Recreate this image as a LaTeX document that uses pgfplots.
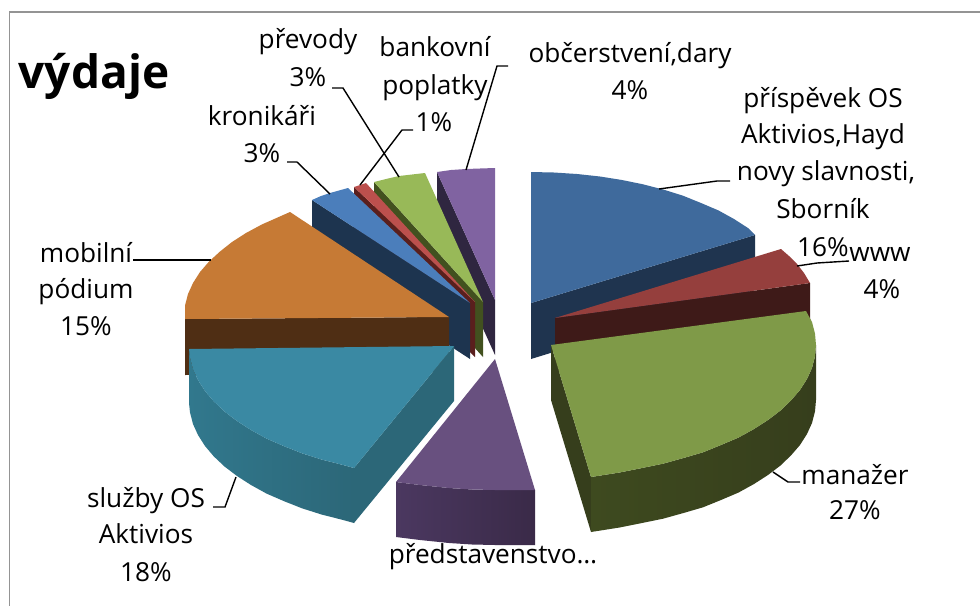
\documentclass[border=0pt]{standalone}
\usepackage{pgfplots}
\pgfplotsset{compat=1.18}
\usepackage{fontspec}
\setmainfont{Open Sans}
\definecolor{topA}{HTML}{3F6A9C}\definecolor{sideA}{HTML}{1F344F}
\definecolor{topB}{HTML}{953F3D}\definecolor{sideB}{HTML}{3E1A18}
\definecolor{topC}{HTML}{7F9A48}\definecolor{sideC}{HTML}{363E1C}\definecolor{sideCl}{HTML}{3E4A1F}
\definecolor{topD}{HTML}{68507F}\definecolor{sideD}{HTML}{3A2A48}\definecolor{sideDl}{HTML}{4B3860}
\definecolor{topE}{HTML}{3A89A3}\definecolor{sideE}{HTML}{2C6778}\definecolor{sideEl}{HTML}{31788D}
\definecolor{topF}{HTML}{C67A35}\definecolor{sideF}{HTML}{4F2E14}
\definecolor{topG}{HTML}{4B7EBB}\definecolor{sideG}{HTML}{1D344F}
\definecolor{topH}{HTML}{BC504D}\definecolor{sideH}{HTML}{5A1F1D}
\definecolor{topI}{HTML}{98B958}\definecolor{sideI}{HTML}{42511F}
\definecolor{topJ}{HTML}{8063A1}\definecolor{sideJ}{HTML}{2F2640}
\newcommand{\lab}[3]{\node[text=black,inner sep=0pt,anchor=base] at (axis cs:#1,#2) {\fontsize{26.2}{30}\selectfont #3};}
\begin{document}
\begin{tikzpicture}
\begin{axis}[scale only axis,width=980pt,height=606pt,xmin=0,xmax=980,ymin=0,ymax=606,y dir=reverse,axis lines=none,clip=true]
% frame
\addplot[draw=white,fill=white] coordinates {(0,0)(980,0)(980,606)(0,606)} --cycle;
\addplot[draw=black!42,line width=1.6pt] coordinates {(980,12)(9.5,12)(9.5,606)};
% small slices, back to front
\addplot[fill=sideJ,draw=none] coordinates {(437,172)(495,300)(495,355)(437,227)} --cycle;
\addplot[fill=topJ,draw=none] coordinates {(437,172)(451,170)(466,169)(480,168.5)(495,168)(495,300)} --cycle;
\addplot[fill=sideI,draw=none] coordinates {(374,182)(483,302)(483,357)(374,237)} --cycle;
\addplot[fill=topI,draw=none] coordinates {(374,182)(386,179)(399,176)(412,174.5)(425,173)(483,302)} --cycle;
\addplot[fill=sideH,draw=none] coordinates {(354,187)(475,302)(475,357)(354,242)} --cycle;
\addplot[fill=topH,draw=none] coordinates {(354,187)(360,185)(366,183)(475,302)} --cycle;
\addplot[fill=sideG,draw=none] coordinates {(312,200)(470,303)(470,359)(312,256)} --cycle;
\addplot[fill=topG,draw=none] coordinates {(312,200)(321,196)(330,193)(339,190.5)(348,188)(470,303)} --cycle;
% orange
\addplot[fill=sideF,draw=none] coordinates {(185,319)(449,317)(449,372)(185,375)} --cycle;
\addplot[fill=topF,draw=none] coordinates {(185,319)(185,305.6)(188,294)(193,283)(200,272)(209,261.6)(220,251.5)(232,242)(246,233)(262,224.4)(290,212)(449,317)} --cycle;
% teal
\addplot[fill=sideE,draw=none] coordinates {(354,468)(454,346)(454,401)(354,523)} --cycle;
\addplot[left color=sideEl,right color=sideE,draw=none] coordinates {(189,349)(190,357.4)(193,369)(198,380)(205,391)(213.8,401.4)(224.5,411.5)(237,421)(251,430)(266.6,438.6)(283.6,446)(302,453.3)(321.5,459.5)(342,464.7)(354,468)(354,523)(342,519.7)(321.5,514.5)(302,508.3)(283.6,501)(266.6,493.6)(251,485)(237,476)(224.5,466.5)(213.8,456.4)(205,446)(198,435)(193,424)(190,412.4)(189,403)} --cycle;
\addplot[fill=topE,draw=none] coordinates {(189,349)(190,357.4)(193,369)(198,380)(205,391)(213.8,401.4)(224.5,411.5)(237,421)(251,430)(266.6,438.6)(283.6,446)(302,453.3)(321.5,459.5)(342,464.7)(354,468)(454,346)} --cycle;
% purple bottom
\addplot[left color=sideDl,right color=sideD,draw=none] coordinates {(396,482)(420,485)(449,488)(472,489.5)(495,490)(515,490)(535,490)(535,545)(515,545)(495,545)(472,544.5)(449,543)(420,540)(396,537)} --cycle;
\addplot[fill=topD,draw=none] coordinates {(396,482)(420,485)(449,488)(472,489.5)(495,490)(515,490)(535,490)(495,359)} --cycle;
% big blue
\addplot[fill=sideA,draw=none] coordinates {(531,303)(755,235)(755,290)(531,359)} --cycle;
\addplot[fill=topA,draw=none] coordinates {(531,172)(554,172.5)(577,174)(600,176.5)(622,180)(643,184.3)(663.5,189.6)(683,195.7)(701,203)(718.4,210.4)(734,219)(748,228)(755,235)(531,303)} --cycle;
% www
\addplot[fill=sideB,draw=none] coordinates {(555,318)(810,283)(810,340)(555,373)} --cycle;
\addplot[fill=topB,draw=none] coordinates {(555,318)(781,249)(789,256)(797,264)(804,273)(810,283)} --cycle;
% big green
\addplot[fill=sideC,draw=none] coordinates {(551,345)(591,477)(591,532)(551,400)} --cycle;
\addplot[left color=sideCl,right color=sideC,draw=none] coordinates {(591,477)(619.6,472.5)(642,468)(663,463.7)(683.5,458)(703,452.3)(721,445)(738.4,437.6)(754,429)(768,420)(780.5,410.5)(791,400.4)(800,390)(807,379)(812,368)(815,356.4)(816,345)(816,400)(815,411.4)(812,423)(807,434)(800,445)(791,455.4)(780.5,465.5)(768,475)(754,484)(738.4,492.6)(721,500)(703,507.3)(683.5,513)(663,518.7)(642,523)(619.6,527.5)(591,532)} --cycle;
\addplot[fill=topC,draw=none] coordinates {(551,345)(806,311)(812,322)(815,333.6)(816,345)(815,356.4)(812,368)(807,379)(800,390)(791,400.4)(780.5,410.5)(768,420)(754,429)(738.4,437.6)(721,445)(703,452.3)(683.5,458)(663,463.7)(642,468)(619.6,472.5)(591,477)} --cycle;
% leader lines
\addplot[black,line width=1.4pt] coordinates {(659,189)(717,181)(730,181)};
\addplot[black,line width=1.4pt] coordinates {(797,266)(817,263)(849,261)};
\addplot[black,line width=1.4pt] coordinates {(773,472)(788,482)(800,482)};
\addplot[black,line width=1.4pt] coordinates {(236,477)(225,507)(213,507)};
\addplot[black,line width=1.4pt] coordinates {(211,260)(170,260)(133,260)};
\addplot[black,line width=1.4pt] coordinates {(287,162)(297,162)(330,194)};
\addplot[black,line width=1.4pt] coordinates {(332,88)(343,88)(399,177)};
\addplot[black,line width=1.4pt] coordinates {(413,130)(402,130)(360,185)};
\addplot[black,line width=1.4pt] coordinates {(508,66)(497,66)(466,170)};
% texts
\node[inner sep=0pt,anchor=base] at (axis cs:94,88) {\fontsize{46}{50}\selectfont\bfseries výdaje};
\lab{823}{107}{příspěvek OS}
\lab{823}{143}{Aktivios,Hayd}
\lab{826}{180}{novy slavnosti,}
\lab{823}{218}{Sborník}
\lab{823}{256}{16\%}
\lab{880}{261}{www}
\lab{882}{298}{4\%}
\lab{855}{484}{manažer}
\lab{855}{519}{27\%}
\lab{493}{563}{představenstvo…}
\lab{146}{507}{služby OS}
\lab{146}{543}{Aktivios}
\lab{146}{581}{18\%}
\lab{86}{262}{mobilní}
\lab{86}{298}{pódium}
\lab{86}{335}{15\%}
\lab{262}{125}{kronikáři}
\lab{262}{162}{3\%}
\lab{308}{48}{převody}
\lab{308}{86}{3\%}
\lab{435}{56}{bankovní}
\lab{435}{94}{poplatky}
\lab{434}{131}{1\%}
\lab{630}{62}{občerstvení,dary}
\lab{630}{99}{4\%}
\end{axis}
\end{tikzpicture}
\end{document}
